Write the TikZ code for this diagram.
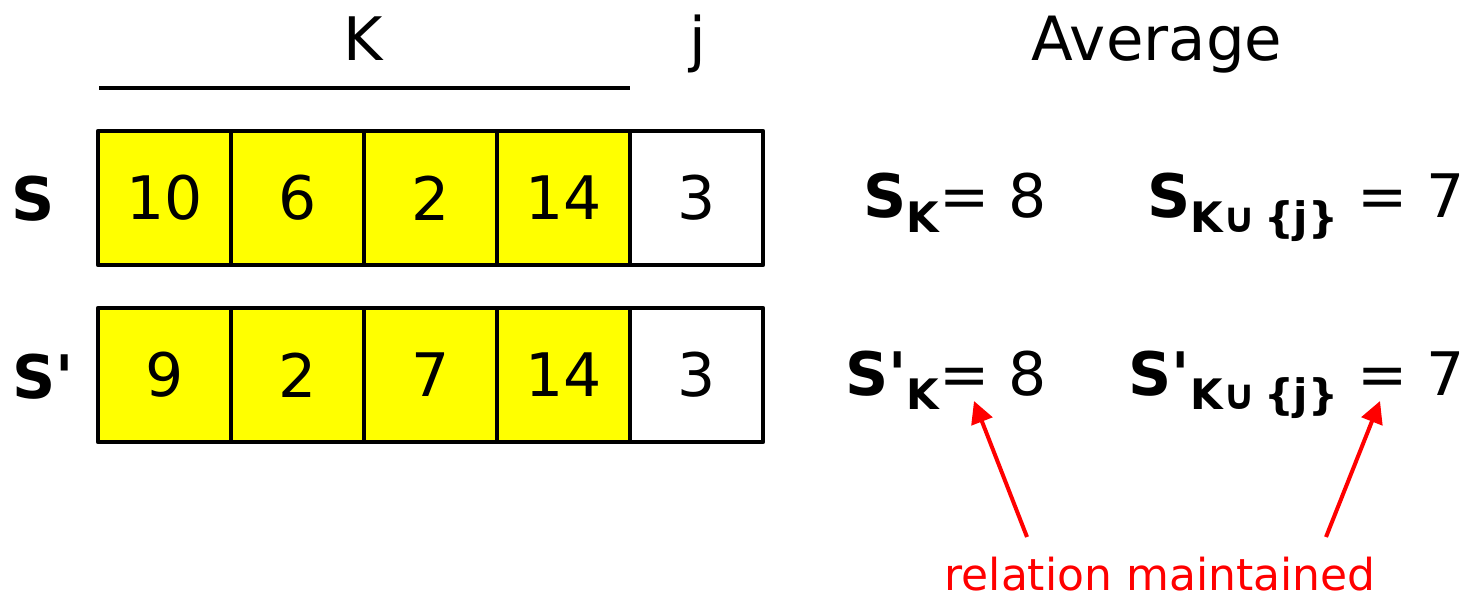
\documentclass[tikz,border=0pt]{standalone}
\usepackage{fontspec}
\setmainfont{DejaVu Sans}[Ligatures=TeXOff]
\usetikzlibrary{arrows.meta}
\definecolor{cellyellow}{HTML}{FFFF00}
\definecolor{relred}{HTML}{FF0000}
\newcommand{\bigf}{\fontsize{60}{70}\selectfont}
\newcommand{\subf}{\fontsize{42}{50}\selectfont\bfseries}
\newcommand{\relf}{\fontsize{44}{52}\selectfont}
\tikzset{
  cell/.style={draw=black, line width=4.5pt, line join=round, minimum width=133pt, minimum height=134pt, inner sep=0pt, font=\bigf},
  kcell/.style={cell, fill=cellyellow},
  jcell/.style={cell, fill=white},
  rowlabel/.style={font=\bigf\bfseries, inner sep=0pt},
  head/.style={font=\bigf, inner sep=0pt, anchor=base},
  formula/.style={font=\bigf, inner sep=0pt, anchor=base east},
  relarrow/.style={draw=relred, line width=4pt, -{Triangle[length=22pt,width=22pt]}},
}
\begin{document}
\begin{tikzpicture}[x=1pt,y=-1pt]
\useasboundingbox (0,0) rectangle (1472,597);
% headers
\node[head] (hK) at (363,60) {K};
\node[head] (hj) at (698,60) {j};
\node[head, font=\fontsize{61}{70}\selectfont] (havg) at (1157,60) {Average};
\coordinate (kl) at (99,88);
\coordinate (kr) at (630,88);
\draw[line width=3.5pt] (kl) -- (kr);
% row S
\node[rowlabel] (lS) at (33,199) {S};
\node[kcell] (a1) at (164.5,198) {10};
\node[kcell] (a2) at (297.5,198) {6};
\node[kcell] (a3) at (430.5,198) {2};
\node[kcell] (a4) at (563.5,198) {14};
\node[jcell] (a5) at (696.5,198) {3};
% row S'
\node[rowlabel] (lS2) at (43,377) {S'};
\node[kcell] (b1) at (164.5,375) {9};
\node[kcell] (b2) at (297.5,375) {2};
\node[kcell] (b3) at (430.5,375) {7};
\node[kcell] (b4) at (563.5,375) {14};
\node[jcell] (b5) at (696.5,375) {3};
% averages
\node[formula] (f1) at (1047,217) {\textbf{S}\raisebox{-15pt}{\subf K}= 8};
\node[formula] (f2) at (1465,217) {\textbf{S}\raisebox{-15pt}{\subf K∪\,\{j\}} = 7};
\node[formula] (f3) at (1047,395) {\textbf{S'}\raisebox{-14pt}{\subf K}= 8};
\node[formula] (f4) at (1465,395) {\textbf{S'}\raisebox{-14pt}{\subf K∪\,\{j\}} = 7};
% relation
\node[font=\relf, text=relred, inner sep=0pt, anchor=base] (rel) at (1160,590) {relation maintained};
\coordinate (t1) at (1027,537);
\coordinate (h1) at (974,401);
\coordinate (t2) at (1326,537);
\coordinate (h2) at (1380,401);
\draw[relarrow] (t1) -- (h1);
\draw[relarrow] (t2) -- (h2);
\end{tikzpicture}
\end{document}
